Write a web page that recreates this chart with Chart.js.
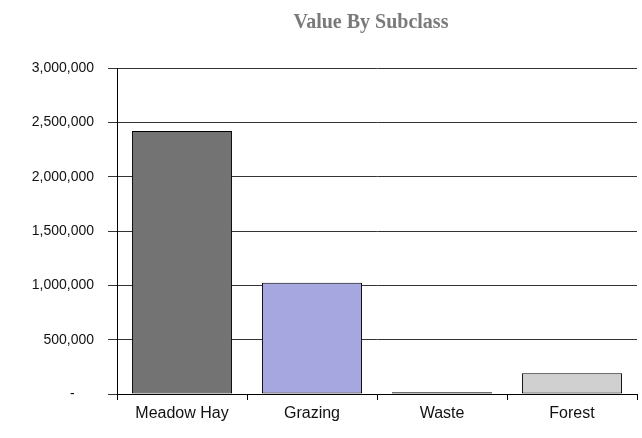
<!DOCTYPE html>
<html>
<head>
<meta charset="utf-8">
<script src="https://cdn.jsdelivr.net/npm/chart.js@4/dist/chart.umd.min.js"></script>
<style>
  html, body { margin: 0; padding: 0; background: #fff; }
  #wrap { width: 642px; height: 438px; }
</style>
</head>
<body>
<div id="wrap"><canvas id="myChart" width="642" height="438"></canvas></div>
<script>
const categories = ['Meadow Hay', 'Grazing', 'Waste', 'Forest'];
const values = [2420000, 1024000, 15000, 190000];
const barColors = ['#737373', '#a6a6e0', '#d0d0d0', '#d0d0d0'];
const yTicks = [0, 500000, 1000000, 1500000, 2000000, 2500000, 3000000];
const chartTitle = 'Value By Subclass';

const fmt = (v) => v === 0 ? '-     ' : v.toLocaleString('en-US');

// title sits roughly over the plot area, not the whole canvas
const titlePlugin = {
    id: 'plotTitle',
    afterDraw(chart) {
        const ctx = chart.ctx;
        const area = chart.chartArea;
        ctx.save();
        ctx.font = 'bold 20px "Liberation Serif"';
        ctx.fillStyle = '#7a7a7a';
        ctx.textAlign = 'center';
        ctx.textBaseline = 'middle';
        ctx.fillText(chartTitle, (area.left + area.right) / 2 - 6, 23);
        ctx.restore();
    }
};

const chart = new Chart(document.getElementById('myChart'), {
    type: 'bar',
    data: {
        labels: categories,
        datasets: [{
            data: values,
            backgroundColor: barColors,
            borderColor: '#000',
            borderWidth: 1,
            borderSkipped: false,
            categoryPercentage: 1,
            barPercentage: 0.77,
        }]
    },
    plugins: [titlePlugin],
    options: {
        responsive: false,
        animation: false,
        layout: { padding: { left: 0, right: 5, top: 68, bottom: 0 } },
        plugins: {
            legend: { display: false },
            tooltip: { enabled: false },
            title: { display: false },
        },
        scales: {
            x: {
                afterFit: (s) => { s.height = 44; },
                grid: { display: true, drawOnChartArea: false, drawTicks: true, tickLength: 6, color: '#000', offset: true },
                border: { color: '#000', width: 1 },
                ticks: { color: '#111', font: { family: 'Liberation Sans', size: 16 }, padding: 4 },
            },
            y: {
                min: 0,
                max: 3000000,
                afterFit: (s) => { s.width = 117; },
                afterBuildTicks: (s) => { s.ticks = yTicks.map(v => ({ value: v })); },
                grid: { color: '#333', tickLength: 9, drawTicks: true },
                border: { color: '#000', width: 1 },
                ticks: { color: '#111', font: { family: 'Liberation Sans', size: 14 }, padding: 14, callback: fmt },
            }
        }
    }
});
</script>
</body>
</html>
